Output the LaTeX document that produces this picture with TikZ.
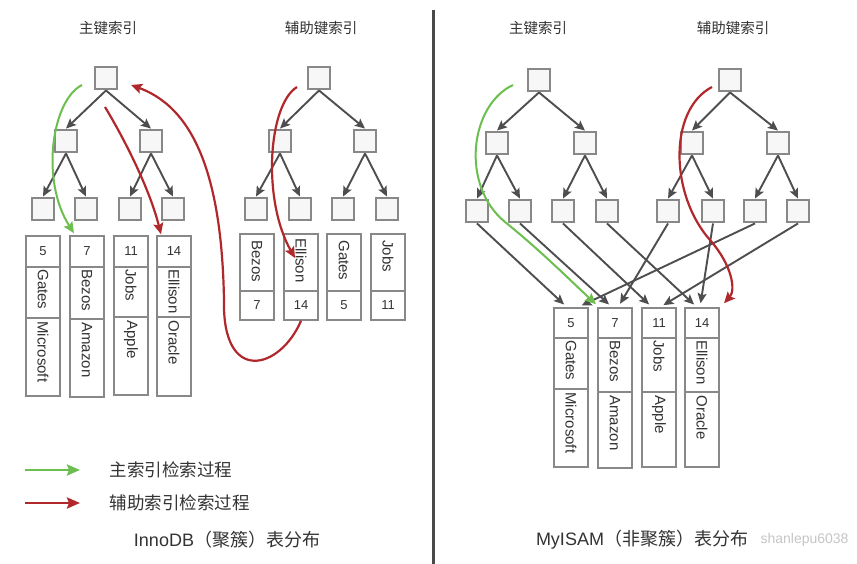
\documentclass[tikz,border=0pt]{standalone}
\usepackage{fontspec}
\setmainfont{Liberation Sans}
\newfontfamily\cjk{Noto Sans CJK SC}
\usetikzlibrary{arrows.meta}
\definecolor{boxgray}{HTML}{888888}
\definecolor{boxfill}{HTML}{F7F7F7}
\definecolor{edgegray}{HTML}{4E4E50}
\definecolor{redc}{HTML}{B0282C}
\definecolor{greenc}{HTML}{6CBF4E}
\definecolor{txt}{HTML}{333333}
\definecolor{divc}{HTML}{4A4A4A}
% column with number / name / company cells
\newcommand\mkcol[9]{%
\node[cell,minimum height={#4-#3}] (#1n) at (#2,{(#3+#4)/2}) {#7};
\node[cell,minimum height={#5-#4}] (#1a) at (#2,{(#4+#5)/2}) {};
\node[cell,minimum height={#6-#5}] (#1b) at (#2,{(#5+#6)/2}) {};
\node[vtext] (#1at) at ([yshift=-3pt]#1a.north) {\rotatebox{-90}{#8}};
\node[vtext] (#1bt) at ([yshift=-4pt]#1b.north) {\rotatebox{-90}{#9}};
}
% secondary index column: name / number
\newcommand\mkcolS[6]{%
\node[cell,minimum height={#4-#3}] (#1a) at (#2,{(#3+#4)/2}) {};
\node[cell,minimum height={#5-#4}] (#1n) at (#2,{(#4+#5)/2}) {#6};
}
\begin{document}
\begin{tikzpicture}[x=1pt,y=-1pt,
 tbox/.style={draw=boxgray,line width=2.4pt,fill=boxfill,minimum size=22.5pt,inner sep=0pt},
 tedge/.style={draw=edgegray,line width=1.9pt,-{Stealth[length=10pt,width=9pt,inset=2pt]}},
 cell/.style={draw=boxgray,line width=1.6pt,fill=white,minimum width=34.5pt,inner sep=0pt,font=\fontsize{13}{13}\selectfont,text=txt},
 vtext/.style={anchor=north,inner sep=0pt,font=\fontsize{15}{15}\selectfont,text=txt},
 title/.style={font=\cjk\fontsize{14.5}{14.5}\selectfont,text=txt},
 legend/.style={font=\cjk\fontsize{17.5}{17.5}\selectfont,text=txt,anchor=west},
 caption/.style={font=\fontsize{18}{18}\selectfont,text=txt},
 redarrow/.style={draw=redc,line width=2.2pt,-{Stealth[length=11pt,width=10pt,inset=2pt]}},
 greenarrow/.style={draw=greenc,line width=2pt,-{Stealth[length=11pt,width=10pt,inset=2pt]}},
]
\useasboundingbox (0,0) rectangle (857,564);
\fill[white] (0,0) rectangle (857,564);

% titles
\node[title] (tA) at (108,28) {主键索引};
\node[title] (tB) at (321,28) {辅助键索引};
\node[title] (tC) at (538,28) {主键索引};
\node[title] (tD) at (733,28) {辅助键索引};

% divider
\coordinate (dv1) at (433,10);
\coordinate (dv2) at (433,564);
\draw[divc,line width=3pt] (dv1) -- (dv2);

% trees
\node[tbox] (A0) at (106,78) {};
\node[tbox] (A1) at (66,141) {};
\node[tbox] (A2) at (151,141) {};
\node[tbox] (A3) at (43,209) {};
\node[tbox] (A4) at (86,209) {};
\node[tbox] (A5) at (130,209) {};
\node[tbox] (A6) at (173,209) {};

\node[tbox] (B0) at (319,78) {};
\node[tbox] (B1) at (280,141) {};
\node[tbox] (B2) at (365,141) {};
\node[tbox] (B3) at (256,209) {};
\node[tbox] (B4) at (300,209) {};
\node[tbox] (B5) at (343,209) {};
\node[tbox] (B6) at (387,209) {};

\node[tbox] (C0) at (539,80) {};
\node[tbox] (C1) at (497,143) {};
\node[tbox] (C2) at (585,143) {};
\node[tbox] (C3) at (477,211) {};
\node[tbox] (C4) at (520,211) {};
\node[tbox] (C5) at (563,211) {};
\node[tbox] (C6) at (607,211) {};

\node[tbox] (D0) at (730,80) {};
\node[tbox] (D1) at (692,143) {};
\node[tbox] (D2) at (778,143) {};
\node[tbox] (D3) at (668,211) {};
\node[tbox] (D4) at (713,211) {};
\node[tbox] (D5) at (755,211) {};
\node[tbox] (D6) at (798,211) {};

\foreach \t in {A,B,C,D}{
  \draw[tedge] (\t0.south) -- (\t1.north);
  \draw[tedge] (\t0.south) -- (\t2.north);
  \draw[tedge] (\t1.south) -- (\t3.north);
  \draw[tedge] (\t1.south) -- (\t4.north);
  \draw[tedge] (\t2.south) -- (\t5.north);
  \draw[tedge] (\t2.south) -- (\t6.north);
}

% left primary data
\mkcol{P5}{43}{236}{267}{318}{396}{5}{Gates}{Microsoft}
\mkcol{P7}{87}{236}{267}{319}{397}{7}{Bezos}{Amazon}
\mkcol{P11}{131}{236}{267}{317}{395}{11}{Jobs}{Apple}
\mkcol{P14}{174}{236}{267}{317}{396}{14}{Ellison}{Oracle}

% left secondary data
\mkcolS{S7}{257}{234}{291}{320}{7}
\mkcolS{S14}{301}{234}{291}{320}{14}
\mkcolS{S5}{344}{234}{291}{320}{5}
\mkcolS{S11}{388}{234}{291}{320}{11}
\node[vtext] (S7t) at ([yshift=-7pt]S7a.north) {\rotatebox{-90}{Bezos}};
\node[vtext] (S14t) at ([yshift=-5pt]S14a.north) {\rotatebox{-90}{Ellison}};
\node[vtext] (S5t) at ([yshift=-7pt]S5a.north) {\rotatebox{-90}{Gates}};
\node[vtext] (S11t) at ([yshift=-7pt]S11a.north) {\rotatebox{-90}{Jobs}};

% right data
\mkcol{R5}{571}{308}{338}{389}{467}{5}{Gates}{Microsoft}
\mkcol{R7}{615}{308}{338}{392}{468}{7}{Bezos}{Amazon}
\mkcol{R11}{659}{308}{338}{392}{467}{11}{Jobs}{Apple}
\mkcol{R14}{702}{308}{338}{392}{467}{14}{Ellison}{Oracle}

% right leaf -> record pointers
\draw[tedge,shorten >=4pt] (C3.south) -- ([xshift=-4pt]R5n.north);
\draw[tedge,shorten >=4pt] (C4.south) -- ([xshift=-3pt]R7n.north);
\draw[tedge,shorten >=4pt] (C5.south) -- ([xshift=-7pt]R11n.north);
\draw[tedge,shorten >=4pt] (C6.south) -- ([xshift=-5pt]R14n.north);
\draw[tedge,shorten >=4pt] (D3.south) -- ([xshift=3pt]R7n.north);
\draw[tedge,shorten >=4pt] (D4.south) -- ([xshift=-2pt]R14n.north);
\draw[tedge,shorten >=4pt] (D5.south) -- ([xshift=7pt]R5n.north);
\draw[tedge,shorten >=4pt] (D6.south) -- ([xshift=1pt]R11n.north);

% search paths, left
\coordinate (gA) at (82,85);
\draw[greenarrow] (gA) .. controls (52,100) and (40,180) .. ([xshift=5pt,yshift=2pt]P7n.north west);
\coordinate (rA) at (105,107);
\draw[redarrow] (rA) .. controls (125,140) and (150,190) .. ([xshift=5pt,yshift=1pt]P14n.north west);
\coordinate (rB) at (297,87);
\coordinate (rBe) at (295,258);
\draw[redarrow] (rB) .. controls (268,105) and (262,200) .. (rBe);
\coordinate (rBm) at (224,300);
\coordinate (rBt) at (131,85);
\draw[redarrow] (S14n.south) .. controls (280,370) and (222,385) .. (rBm)
   .. controls (222,190) and (200,110) .. (rBt);

% search paths, right
\coordinate (gC) at (513,85);
\coordinate (gCm) at (505,222);
\draw[greenarrow] (gC) .. controls (470,105) and (460,185) .. (gCm)
   .. controls (540,250) and (572,282) .. ([xshift=-1pt,yshift=3pt]R7n.north west);
\coordinate (rD) at (712,87);
\coordinate (rDm) at (710,240);
\draw[redarrow] (rD) .. controls (668,110) and (670,195) .. (rDm)
   .. controls (732,265) and (736,290) .. ([xshift=4pt,yshift=4pt]R14n.north east);

% legend
\coordinate (lg1) at (25,470);
\coordinate (lg2) at (80,470);
\coordinate (lr1) at (25,503);
\coordinate (lr2) at (80,503);
\draw[greenarrow,line width=2.6pt,-{Stealth[length=13pt,width=11pt,inset=2pt]}] (lg1) -- (lg2);
\draw[redarrow,line width=2.6pt,-{Stealth[length=13pt,width=11pt,inset=2pt]}] (lr1) -- (lr2);
\node[legend] (lgt) at (106,470) {主索引检索过程};
\node[legend] (lrt) at (106,503) {辅助索引检索过程};

% captions
\node[caption] (capL) at (227,540) {InnoDB{\cjk（聚簇）表分布}};
\node[caption] (capR) at (642,540) {MyISAM{\cjk（非聚簇）表分布}};
\node[anchor=west,font=\fontsize{14}{14}\selectfont,text=gray!45] (wm) at (757,540) {shanlepu6038};
\end{tikzpicture}
\end{document}
